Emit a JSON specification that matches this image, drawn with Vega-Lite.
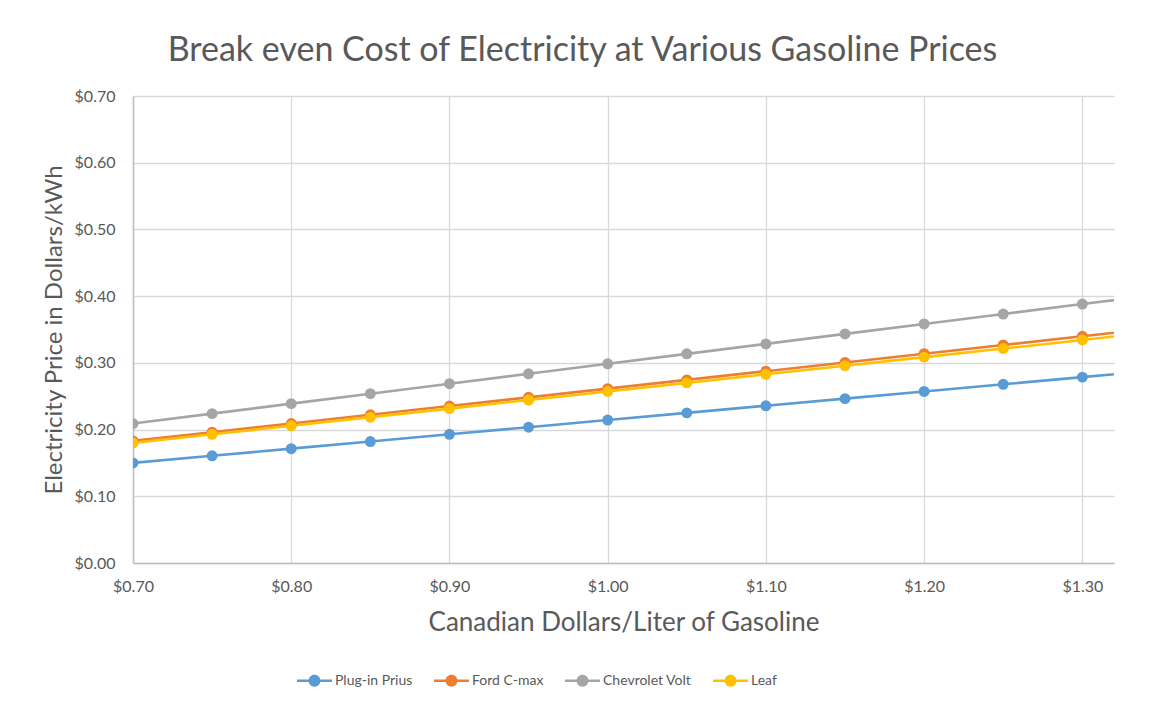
{
  "$schema": "https://vega.github.io/schema/vega-lite/v6.json",
  "autosize": {"type": "none"},
  "width": 981,
  "height": 467,
  "padding": {"left": 133, "top": 96, "right": 37, "bottom": 142},
  "background": "white",
  "title": {
    "text": "Break even Cost of Electricity at Various Gasoline Prices",
    "font": "Lato",
    "fontSize": 34,
    "fontWeight": "normal",
    "color": "#595959",
    "anchor": "middle",
    "frame": "group",
    "dx": -41,
    "offset": 20
  },
  "data": {
    "values": [
      {"price": 0.70, "car": "Plug-in Prius", "value": 0.1500},
      {"price": 0.75, "car": "Plug-in Prius", "value": 0.1607},
      {"price": 0.80, "car": "Plug-in Prius", "value": 0.1714},
      {"price": 0.85, "car": "Plug-in Prius", "value": 0.1821},
      {"price": 0.90, "car": "Plug-in Prius", "value": 0.1929},
      {"price": 0.95, "car": "Plug-in Prius", "value": 0.2036},
      {"price": 1.00, "car": "Plug-in Prius", "value": 0.2143},
      {"price": 1.05, "car": "Plug-in Prius", "value": 0.2250},
      {"price": 1.10, "car": "Plug-in Prius", "value": 0.2357},
      {"price": 1.15, "car": "Plug-in Prius", "value": 0.2464},
      {"price": 1.20, "car": "Plug-in Prius", "value": 0.2571},
      {"price": 1.25, "car": "Plug-in Prius", "value": 0.2679},
      {"price": 1.30, "car": "Plug-in Prius", "value": 0.2786},
      {"price": 1.35, "car": "Plug-in Prius", "value": 0.2893},
      {"price": 0.70, "car": "Ford C-max", "value": 0.1830},
      {"price": 0.75, "car": "Ford C-max", "value": 0.1961},
      {"price": 0.80, "car": "Ford C-max", "value": 0.2091},
      {"price": 0.85, "car": "Ford C-max", "value": 0.2222},
      {"price": 0.90, "car": "Ford C-max", "value": 0.2353},
      {"price": 0.95, "car": "Ford C-max", "value": 0.2483},
      {"price": 1.00, "car": "Ford C-max", "value": 0.2614},
      {"price": 1.05, "car": "Ford C-max", "value": 0.2745},
      {"price": 1.10, "car": "Ford C-max", "value": 0.2875},
      {"price": 1.15, "car": "Ford C-max", "value": 0.3006},
      {"price": 1.20, "car": "Ford C-max", "value": 0.3137},
      {"price": 1.25, "car": "Ford C-max", "value": 0.3268},
      {"price": 1.30, "car": "Ford C-max", "value": 0.3398},
      {"price": 1.35, "car": "Ford C-max", "value": 0.3529},
      {"price": 0.70, "car": "Chevrolet Volt", "value": 0.2090},
      {"price": 0.75, "car": "Chevrolet Volt", "value": 0.2239},
      {"price": 0.80, "car": "Chevrolet Volt", "value": 0.2389},
      {"price": 0.85, "car": "Chevrolet Volt", "value": 0.2538},
      {"price": 0.90, "car": "Chevrolet Volt", "value": 0.2687},
      {"price": 0.95, "car": "Chevrolet Volt", "value": 0.2836},
      {"price": 1.00, "car": "Chevrolet Volt", "value": 0.2986},
      {"price": 1.05, "car": "Chevrolet Volt", "value": 0.3135},
      {"price": 1.10, "car": "Chevrolet Volt", "value": 0.3284},
      {"price": 1.15, "car": "Chevrolet Volt", "value": 0.3434},
      {"price": 1.20, "car": "Chevrolet Volt", "value": 0.3583},
      {"price": 1.25, "car": "Chevrolet Volt", "value": 0.3732},
      {"price": 1.30, "car": "Chevrolet Volt", "value": 0.3881},
      {"price": 1.35, "car": "Chevrolet Volt", "value": 0.4031},
      {"price": 0.70, "car": "Leaf", "value": 0.1800},
      {"price": 0.75, "car": "Leaf", "value": 0.1929},
      {"price": 0.80, "car": "Leaf", "value": 0.2057},
      {"price": 0.85, "car": "Leaf", "value": 0.2186},
      {"price": 0.90, "car": "Leaf", "value": 0.2314},
      {"price": 0.95, "car": "Leaf", "value": 0.2443},
      {"price": 1.00, "car": "Leaf", "value": 0.2571},
      {"price": 1.05, "car": "Leaf", "value": 0.2700},
      {"price": 1.10, "car": "Leaf", "value": 0.2829},
      {"price": 1.15, "car": "Leaf", "value": 0.2957},
      {"price": 1.20, "car": "Leaf", "value": 0.3086},
      {"price": 1.25, "car": "Leaf", "value": 0.3214},
      {"price": 1.30, "car": "Leaf", "value": 0.3343},
      {"price": 1.35, "car": "Leaf", "value": 0.3471}
    ]
  },
  "encoding": {
    "x": {
      "field": "price",
      "type": "quantitative",
      "scale": {"domain": [0.7, 1.32], "nice": false, "zero": false},
      "axis": {
        "title": "Canadian Dollars/Liter of Gasoline",
        "values": [0.7, 0.8, 0.9, 1.0, 1.1, 1.2, 1.3],
        "format": "$.2f",
        "ticks": false,
        "labelFlush": false,
        "labelBound": false,
        "labelOverlap": false,
        "labelPadding": 15,
        "labelFontSize": 16,
        "labelFont": "Lato",
        "labelColor": "#595959",
        "domainColor": "#bfbfbf",
        "domainWidth": 1.5,
        "gridColor": "#d9d9d9",
        "gridWidth": 1.3,
        "titleFont": "Lato",
        "titleFontSize": 26,
        "titleFontWeight": "normal",
        "titleColor": "#595959",
        "titlePadding": 15
      }
    },
    "y": {
      "field": "value",
      "type": "quantitative",
      "scale": {"domain": [0, 0.7], "nice": false},
      "axis": {
        "title": "Electricity Price in Dollars/kWh",
        "values": [0, 0.1, 0.2, 0.3, 0.4, 0.5, 0.6, 0.7],
        "format": "$.2f",
        "ticks": false,
        "labelFlush": false,
        "labelBound": false,
        "labelOverlap": false,
        "labelPadding": 18,
        "labelFontSize": 16,
        "labelFont": "Lato",
        "labelColor": "#595959",
        "domainColor": "#bfbfbf",
        "domainWidth": 1.5,
        "gridColor": "#d9d9d9",
        "gridWidth": 1.3,
        "titleFont": "Lato",
        "titleFontSize": 24,
        "titleFontWeight": "normal",
        "titleColor": "#595959",
        "titlePadding": 8
      }
    },
    "color": {
      "field": "car",
      "type": "nominal",
      "sort": ["Plug-in Prius", "Ford C-max", "Chevrolet Volt", "Leaf"],
      "scale": {
        "domain": ["Plug-in Prius", "Ford C-max", "Chevrolet Volt", "Leaf"],
        "range": ["#5b9bd5", "#ed7d31", "#a5a5a5", "#ffc000"]
      },
      "legend": {
        "title": null,
        "orient": "none",
        "direction": "horizontal",
        "legendX": 164,
        "legendY": 567,
        "symbolType": "M-1,-0.075L1,-0.075L1,0.075L-1,0.075Z M0.34,0 A0.34,0.34 0 1,1 -0.34,0 A0.34,0.34 0 1,1 0.34,0 Z",
        "symbolSize": 1225,
        "symbolStrokeWidth": 0,
        "labelFont": "Lato",
        "labelFontSize": 14,
        "labelColor": "#595959",
        "labelOffset": 3,
        "columnPadding": 21,
        "encode": {
          "symbols": {
            "update": {
              "fill": {"scale": "color", "field": "value"},
              "strokeWidth": {"value": 0},
              "opacity": {"value": 1}
            }
          }
        }
      }
    }
  },
  "layer": [
    {
      "mark": {"type": "line", "strokeWidth": 2.6, "clip": true}
    },
    {
      "mark": {"type": "point", "shape": "circle", "filled": true, "size": 120, "opacity": 1, "clip": true}
    }
  ],
  "config": {
    "view": {"stroke": null}
  }
}
